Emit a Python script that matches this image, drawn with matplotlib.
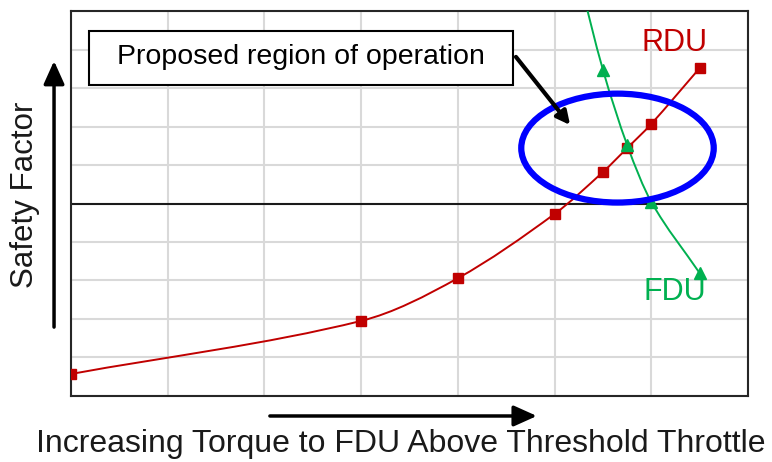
import matplotlib.pyplot as plt
from matplotlib.path import Path
from matplotlib.patches import PathPatch, Ellipse, Rectangle, FancyArrowPatch

plt.rcParams['font.family'] = ['Liberation Sans', 'DejaVu Sans']

# values (grid units)
rdu_x = [0, 3, 4, 5, 5.5, 5.75, 6, 6.5]
rdu_y = [0.57, 1.95, 3.06, 4.73, 5.82, 6.44, 7.07, 8.52]
fdu_x = [5.25, 5.5, 5.75, 6, 6.5]
fdu_y = [10.9, 8.47, 6.52, 5.04, 3.19]
threshold = 5

red = '#C00000'
green = '#00B050'


def smooth_path(xs, ys):
    # smoothed line through the points: cubic Hermite segments as Beziers
    n = len(xs)
    slopes = []
    for i in range(n):
        a = max(i - 1, 0)
        b = min(i + 1, n - 1)
        slopes.append((ys[b] - ys[a]) / (xs[b] - xs[a]))
    verts = [(xs[0], ys[0])]
    codes = [Path.MOVETO]
    for i in range(n - 1):
        h = (xs[i + 1] - xs[i]) / 3
        verts += [(xs[i] + h, ys[i] + slopes[i] * h),
                  (xs[i + 1] - h, ys[i + 1] - slopes[i + 1] * h),
                  (xs[i + 1], ys[i + 1])]
        codes += [Path.CURVE4] * 3
    return Path(verts, codes)


fig = plt.figure(figsize=(7.72, 4.62), dpi=100)
ax = fig.add_axes([0.092, 0.143, 0.877, 0.833])
ax.set_xlim(0, 7)
ax.set_ylim(0, 10)
ax.set_xticks(range(8))
ax.set_yticks(range(11))
ax.grid(True, color='#D9D9D9', linewidth=1.5)
ax.tick_params(length=0, labelbottom=False, labelleft=False)
for s in ax.spines.values():
    s.set_linewidth(1.5)
    s.set_color('#262626')
ax.set_axisbelow(True)

ax.axhline(threshold, color='#1a1a1a', linewidth=1.5, zorder=2)

ax.add_patch(PathPatch(smooth_path(rdu_x, rdu_y), facecolor='none',
                       edgecolor=red, linewidth=1.4, zorder=3))
ax.plot(rdu_x, rdu_y, linestyle='none', marker='s', markersize=7,
        color=red, zorder=4)

ax.add_patch(PathPatch(smooth_path(fdu_x, fdu_y), facecolor='none',
                       edgecolor=green, linewidth=1.4, zorder=3))
ax.plot(fdu_x, fdu_y, linestyle='none', marker='^', markersize=8,
        color=green, zorder=4)

ax.text(6.24, 9.17, 'RDU', color=red, fontsize=22, ha='center', va='center')
ax.text(6.24, 2.70, 'FDU', color=green, fontsize=22, ha='center', va='center')

ax.add_patch(Ellipse((5.65, 6.44), 1.99, 2.83, facecolor='none',
                     edgecolor='#0000FF', linewidth=4.5, zorder=5))

ax.add_patch(Rectangle((0.19, 8.08), 4.38, 1.40, facecolor='white',
                       edgecolor='black', linewidth=1.5, zorder=5))
ax.text(2.38, 8.80, 'Proposed region of operation', fontsize=20.5,
        ha='center', va='center', zorder=6)
ax.annotate('', xy=(5.16, 7.04), xytext=(4.60, 8.81),
            arrowprops=dict(arrowstyle='-|>,head_length=0.8,head_width=0.4',
                            color='black', lw=3, shrinkA=0, shrinkB=0),
            zorder=6)

# axis direction arrows outside the plot
fig.add_artist(FancyArrowPatch(
    (0.070, 0.286), (0.070, 0.874), transform=fig.transFigure,
    arrowstyle='-|>,head_length=1.0,head_width=0.45', color='black',
    lw=2.5, mutation_scale=14))
fig.add_artist(FancyArrowPatch(
    (0.346, 0.0996), (0.699, 0.0996), transform=fig.transFigure,
    arrowstyle='-|>,head_length=1.0,head_width=0.45', color='black',
    lw=2.5, mutation_scale=14))

fig.text(0.032, 0.578, 'Safety Factor', rotation=90, fontsize=22.5,
         ha='center', va='center', color='#1a1a1a')
fig.text(0.519, 0.039, 'Increasing Torque to FDU Above Threshold Throttle',
         fontsize=23, ha='center', va='center', color='#1a1a1a')

fig.savefig('out.png', dpi=100)
